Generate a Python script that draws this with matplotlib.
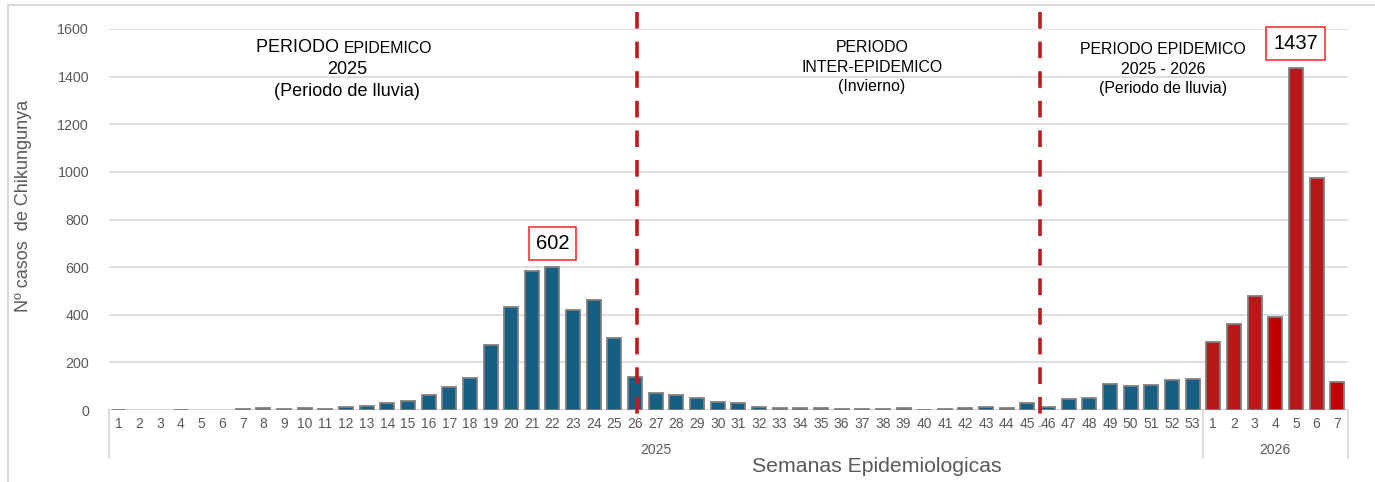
import matplotlib
matplotlib.use("Agg")
import matplotlib.pyplot as plt
from matplotlib.lines import Line2D
from matplotlib.transforms import blended_transform_factory

plt.rcParams['font.family'] = ['Liberation Sans', 'DejaVu Sans']

# ---------------- data ----------------
weeks_2025 = list(range(1, 54))
weeks_2026 = list(range(1, 8))
cases_2025 = [2, 0, 0, 2, 0, 0, 6, 8, 3, 8, 6, 14, 15, 30, 39, 63, 96, 134, 272, 434,
              584, 602, 420, 463, 304, 139, 70, 62, 51, 34, 31, 14, 10, 10, 8, 3, 3, 4, 7, 2,
              6, 10, 14, 7, 30, 14, 48, 49, 108, 100, 103, 124, 132]
cases_2026 = [285, 362, 477, 390, 1437, 975, 118]
year_labels = ["2025", "2026"]
peak_2025 = 602
peak_2026 = 1437

# ---------------- figure ----------------
W, H = 1375, 482
fig = plt.figure(figsize=(W / 100, H / 100), dpi=100)
ax = fig.add_axes([108.5 / W, (H - 410) / H, 1239 / W, 381 / H])

labels = [str(w) for w in weeks_2025] + [str(w) for w in weeks_2026]
values = cases_2025 + cases_2026
x = list(range(len(values)))
n25 = len(cases_2025)

blue = '#175F82'
red = '#BA1818'
red2 = '#C00000'
colors = [blue] * n25 + [red, red, red, red2, red, red, red2]
lws = [1.3 if v > 0 else 0 for v in values]

ax.bar(x, values, width=0.68, color=colors, edgecolor='#808080', linewidth=lws, zorder=3)

ax.set_xlim(-0.5, len(values) - 0.5)
ax.set_ylim(0, 1600)
ax.set_yticks(range(0, 1601, 200))
ax.grid(axis='y', color='#D9D9D9', linewidth=1.2, zorder=0)
ax.set_axisbelow(True)
for s in ax.spines.values():
    s.set_visible(False)
ax.axhline(0, color='#D9D9D9', linewidth=1.5, zorder=2)

ax.set_xticks(x)
ax.set_xticklabels(labels)
ax.tick_params(axis='x', length=0, pad=5, labelsize=10, labelcolor='#595959')
ax.tick_params(axis='y', length=0, pad=14, labelsize=10.3, labelcolor='#595959')

# multi-level category axis
tb = blended_transform_factory(ax.transData, ax.transAxes)
for sx in [-0.5, n25 - 0.5, len(values) - 0.5]:
    ax.plot([sx, sx], [0, -0.126], transform=tb, color='#D9D9D9', linewidth=1.3, clip_on=False)
ax.text((-0.5 + n25 - 0.5) / 2, -0.105, year_labels[0], transform=tb, ha='center', va='center',
        fontsize=10, color='#595959')
ax.text((n25 - 0.5 + len(values) - 0.5) / 2, -0.105, year_labels[1], transform=tb, ha='center',
        va='center', fontsize=10, color='#595959')

fig.text(877 / W, 1 - 467 / H, "Semanas Epidemiologicas", ha='center', va='center',
         fontsize=15.3, color='#595959')
fig.text(24 / W, 1 - 206 / H, "Nº casos  de Chikungunya", ha='center', va='center',
         rotation=90, fontsize=13, color='#595959')

# dashed period separators (drawn from the top down)
for lx in [25.1, 44.6]:
    ax.plot([lx, lx], [1672, -70], color='#C0191F', linewidth=2.6,
            linestyle=(0, (4.6, 3.6)), clip_on=False, zorder=4)

# period annotations (figure pixel positions)
def ftxt(px, py, s, **kw):
    fig.text(px / W, 1 - py / H, s, **kw)

ftxt(344, 48, "PERIODO ", ha='right', va='center', fontsize=13)
ftxt(344, 48.5, "EPIDEMICO", ha='left', va='center', fontsize=11.4)
ftxt(347, 70, "2025", ha='center', va='center', fontsize=13)
ftxt(347, 91, "(Periodo de lluvia)", ha='center', va='center', fontsize=13)

ftxt(872, 48, "PERIODO", ha='center', va='center', fontsize=11.4)
ftxt(872, 67, "INTER-EPIDEMICO", ha='center', va='center', fontsize=11.4)
ftxt(872, 86, "(Invierno)", ha='center', va='center', fontsize=11.4)

ftxt(1163, 50, "PERIODO EPIDEMICO", ha='center', va='center', fontsize=11.4)
ftxt(1163, 70, "2025 - 2026", ha='center', va='center', fontsize=11.4)
ftxt(1163, 88, "(Periodo de lluvia)", ha='center', va='center', fontsize=11.4)

# peak value boxes
box = dict(boxstyle='square,pad=0.35', facecolor='white', edgecolor='#FF2020', linewidth=1.1)
ax.text(values.index(peak_2025), 701, str(peak_2025), ha='center', va='center',
        fontsize=14.5, bbox=box, zorder=5)
ax.text(n25 + cases_2026.index(peak_2026), 1538, str(peak_2026), ha='center', va='center',
        fontsize=14.5, bbox=box, zorder=5)

# outer frame: top and left edges only
fig.lines.append(Line2D([8 / W, 1.0], [1 - 5 / H, 1 - 5 / H], transform=fig.transFigure,
                        color='#D9D9D9', linewidth=1.5))
fig.lines.append(Line2D([8 / W, 8 / W], [0, 1 - 5 / H], transform=fig.transFigure,
                        color='#D9D9D9', linewidth=1.5))

fig.savefig("out.png", dpi=100, facecolor='white')
